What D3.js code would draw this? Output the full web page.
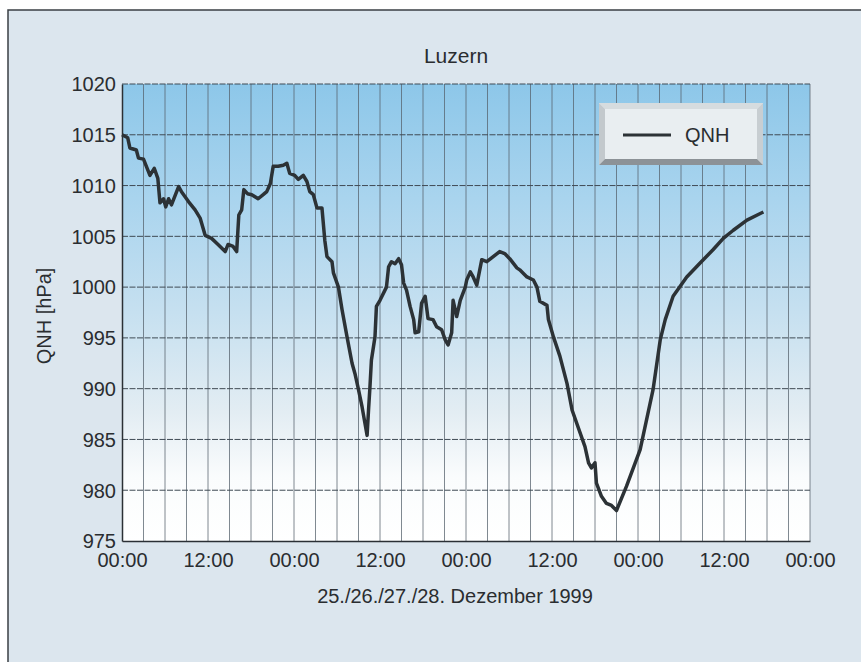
<!DOCTYPE html>
<html>
<head>
<meta charset="utf-8">
<script src="https://cdn.jsdelivr.net/npm/d3@7"></script>
<style>
  body { margin: 0; background: #fff; }
  svg { display: block; font-family: "Liberation Sans", Arial, sans-serif; }
</style>
</head>
<body>
<div id="chart"></div>
<script>
// Luzern QNH, 25.-28. Dezember 1999 (hours since 25.12. 00:00)
const hours = [0, 0.8, 1.1, 2.0, 2.3, 3.0, 3.9, 4.5, 5.0, 5.3, 5.8, 6.1, 6.5, 6.9, 7.9, 8.3, 9.3, 10.2, 10.9, 11.6,
  12.5, 13.4, 14.4, 14.8, 15.5, 16.0, 16.3, 16.7, 17.0, 17.5, 18.1, 19.0, 19.7, 20.2, 20.7, 21.1, 21.8, 22.5, 23.0, 23.4,
  24.1, 24.6, 25.3, 25.8, 26.2, 26.7, 27.2, 27.9, 28.3, 28.6, 29.3, 29.5, 30.2, 30.7, 31.4, 32.1, 32.5, 33.0, 33.5, 33.9,
  34.2, 34.4, 34.6, 34.8, 35.3, 35.5, 36.0, 36.9, 37.2, 37.6, 38.1, 38.6, 39.0, 39.3, 39.7, 40.2, 40.7, 40.9, 41.4, 41.8,
  42.3, 42.7, 43.4, 43.9, 44.6, 45.1, 45.5, 46.0, 46.2, 46.7, 47.2, 47.9, 48.1, 48.6, 49.0, 49.5, 50.2, 50.9, 51.8, 52.7,
  53.4, 54.1, 55.1, 55.5, 56.5, 57.4, 57.9, 58.3, 59.3, 59.5, 60.2, 61.1, 62.1, 62.8, 64.6, 65.1, 65.5, 66.0, 66.2, 66.9,
  67.6, 68.3, 69.0, 70.4, 72.3, 74.1, 75.1, 75.8, 76.9, 78.8, 80.7, 82.5, 83.9, 85.3, 87.2, 89.5];
const qnh = [1015.0, 1014.7, 1013.7, 1013.5, 1012.7, 1012.6, 1011.0, 1011.7, 1010.7, 1008.3, 1008.7, 1007.9, 1008.7, 1008.1, 1009.9, 1009.4, 1008.4, 1007.6, 1006.8, 1005.1,
  1004.8, 1004.2, 1003.5, 1004.2, 1004.0, 1003.5, 1007.1, 1007.6, 1009.6, 1009.2, 1009.1, 1008.7, 1009.1, 1009.4, 1010.2, 1011.9, 1011.9, 1012.0, 1012.2, 1011.2,
  1011.0, 1010.6, 1011.0, 1010.4, 1009.4, 1009.1, 1007.8, 1007.8, 1004.6, 1003.0, 1002.5, 1001.4, 1000.0, 997.8, 995.1, 992.5, 991.5, 989.9, 988.2, 986.6,
  985.4, 987.9, 990.2, 992.8, 995.1, 998.1, 998.7, 1000.0, 1002.0, 1002.5, 1002.3, 1002.8, 1002.2, 1000.4, 999.7, 998.1, 996.8, 995.5, 995.6, 998.4,
  999.1, 996.9, 996.8, 996.1, 995.8, 994.8, 994.3, 995.5, 998.7, 997.1, 998.7, 1000.0, 1000.7, 1001.5, 1001.0, 1000.2, 1002.7, 1002.5, 1003.0, 1003.5,
  1003.3, 1002.8, 1001.9, 1001.7, 1001.0, 1000.7, 1000.0, 998.6, 998.2, 996.8, 995.1, 993.2, 990.5, 987.9, 984.3, 982.7, 982.2, 982.7, 980.7, 979.4,
  978.7, 978.5, 978.0, 980.4, 984.0, 989.9, 994.8, 996.8, 999.1, 1001.0, 1002.4, 1003.7, 1004.8, 1005.6, 1006.6, 1007.4];

const yTicks = [975, 980, 985, 990, 995, 1000, 1005, 1010, 1015, 1020];
const xTicks = [0, 12, 24, 36, 48, 60, 72, 84, 96];
const xTickLabels = ['00:00', '12:00', '00:00', '12:00', '00:00', '12:00', '00:00', '12:00', '00:00'];
const xGrid = d3.range(0, 97, 3);

const title = 'Luzern';
const xTitle = '25./26./27./28. Dezember 1999';
const yTitle = 'QNH [hPa]';
const seriesName = 'QNH';

const width = 861, height = 662;
const plot = { left: 122, right: 810, top: 84, bottom: 541 };

const svg = d3.select('#chart').append('svg')
    .attr('width', width)
    .attr('height', height);

const defs = svg.append('defs');
const grad = defs.append('linearGradient')
    .attr('id', 'plotBg')
    .attr('x1', 0).attr('y1', 0).attr('x2', 0).attr('y2', 1);
grad.append('stop').attr('offset', '0%').attr('stop-color', '#8dc7e9');
grad.append('stop').attr('offset', '25%').attr('stop-color', '#a9d4ee');
grad.append('stop').attr('offset', '50%').attr('stop-color', '#c6e0f0');
grad.append('stop').attr('offset', '72%').attr('stop-color', '#e3edf3');
grad.append('stop').attr('offset', '86%').attr('stop-color', '#fafcfd');
grad.append('stop').attr('offset', '100%').attr('stop-color', '#ffffff');

// page background with frame
svg.append('rect')
    .attr('x', 8).attr('y', 10)
    .attr('width', width - 8).attr('height', height - 10)
    .attr('fill', '#dce6ee');
svg.append('path')
    .attr('d', `M8,${height}V10H${width}`)
    .attr('fill', 'none')
    .attr('stroke', '#3a3f44')
    .attr('stroke-width', 1.5);

// scales
const x = d3.scaleLinear().domain([0, 96]).range([plot.left, plot.right]);
const y = d3.scaleLinear().domain([975, 1020]).range([plot.bottom, plot.top]);

svg.append('rect')
    .attr('x', plot.left).attr('y', plot.top)
    .attr('width', plot.right - plot.left).attr('height', plot.bottom - plot.top)
    .attr('fill', 'url(#plotBg)');

// vertical grid
svg.append('g')
    .selectAll('line')
    .data(xGrid.filter(d => d > 0))
    .enter()
    .append('line')
    .attr('x1', d => x(d)).attr('x2', d => x(d))
    .attr('y1', plot.top).attr('y2', plot.bottom)
    .attr('stroke', '#56626c')
    .attr('stroke-width', 0.75);

// horizontal grid
svg.append('g')
    .selectAll('line')
    .data(yTicks.filter(d => d > 975))
    .enter()
    .append('line')
    .attr('x1', plot.left).attr('x2', plot.right)
    .attr('y1', d => y(d)).attr('y2', d => y(d))
    .attr('stroke', '#3f4a54')
    .attr('stroke-width', 1)
    .attr('stroke-dasharray', '6,1.5');

// axes
const yAxis = svg.append('g')
    .attr('transform', `translate(${plot.left},0)`)
    .call(d3.axisLeft(y).tickValues(yTicks).tickSize(0).tickPadding(6)
        .tickFormat(d3.format('d')));
const xAxis = svg.append('g')
    .attr('transform', `translate(0,${plot.bottom})`)
    .call(d3.axisBottom(x).tickValues(xTicks).tickSize(0).tickPadding(12)
        .tickFormat((d, i) => xTickLabels[i]));

[yAxis, xAxis].forEach(a => {
    a.select('.domain').attr('stroke', '#2b3035').attr('stroke-width', 1.5);
    a.selectAll('text')
        .attr('fill', '#2a2d30')
        .style('font-size', '20px')
        .style('font-family', '"Liberation Sans", Arial, sans-serif');
});
yAxis.selectAll('text').attr('dy', '0.34em');

// line
const line = d3.line()
    .x(d => x(d[0]))
    .y(d => y(d[1]));

svg.append('path')
    .datum(hours.map((h, i) => [h, qnh[i]]))
    .attr('fill', 'none')
    .attr('stroke', '#2c3236')
    .attr('stroke-width', 3.5)
    .attr('stroke-linejoin', 'round')
    .attr('d', line);

// titles
svg.append('text')
    .attr('x', 456).attr('y', 63)
    .attr('text-anchor', 'middle')
    .attr('fill', '#2a2d30')
    .style('font-size', '21px')
    .text(title);

svg.append('text')
    .attr('x', 455).attr('y', 603)
    .attr('text-anchor', 'middle')
    .attr('fill', '#2a2d30')
    .style('font-size', '20px')
    .text(xTitle);

svg.append('text')
    .attr('transform', 'translate(51,316) rotate(-90)')
    .attr('text-anchor', 'middle')
    .attr('fill', '#2a2d30')
    .style('font-size', '20px')
    .text(yTitle);

// bevelled legend box
const lg = { x0: 599, y0: 103, x1: 763, y1: 165, b: 6 };
const legend = svg.append('g');
legend.append('rect')
    .attr('x', lg.x0).attr('y', lg.y0)
    .attr('width', lg.x1 - lg.x0).attr('height', lg.y1 - lg.y0)
    .attr('fill', '#e9eef1');
const bevels = [
    { pts: [[lg.x0, lg.y0], [lg.x1, lg.y0], [lg.x1 - lg.b, lg.y0 + lg.b], [lg.x0 + lg.b, lg.y0 + lg.b]], c: '#d6dcdf' },
    { pts: [[lg.x0, lg.y0], [lg.x0 + lg.b, lg.y0 + lg.b], [lg.x0 + lg.b, lg.y1 - lg.b], [lg.x0, lg.y1]], c: '#c3c9cd' },
    { pts: [[lg.x1, lg.y0], [lg.x1, lg.y1], [lg.x1 - lg.b, lg.y1 - lg.b], [lg.x1 - lg.b, lg.y0 + lg.b]], c: '#c8ced2' },
    { pts: [[lg.x0, lg.y1], [lg.x0 + lg.b, lg.y1 - lg.b], [lg.x1 - lg.b, lg.y1 - lg.b], [lg.x1, lg.y1]], c: '#8c9297' }
];
legend.selectAll('polygon')
    .data(bevels)
    .enter()
    .append('polygon')
    .attr('points', d => d.pts.map(p => p.join(',')).join(' '))
    .attr('fill', d => d.c);
legend.append('line')
    .attr('x1', 623).attr('x2', 671)
    .attr('y1', 135).attr('y2', 135)
    .attr('stroke', '#2c3236')
    .attr('stroke-width', 3);
legend.append('text')
    .attr('x', 685).attr('y', 142)
    .attr('fill', '#2a2d30')
    .style('font-size', '20px')
    .text(seriesName);
</script>
</body>
</html>
